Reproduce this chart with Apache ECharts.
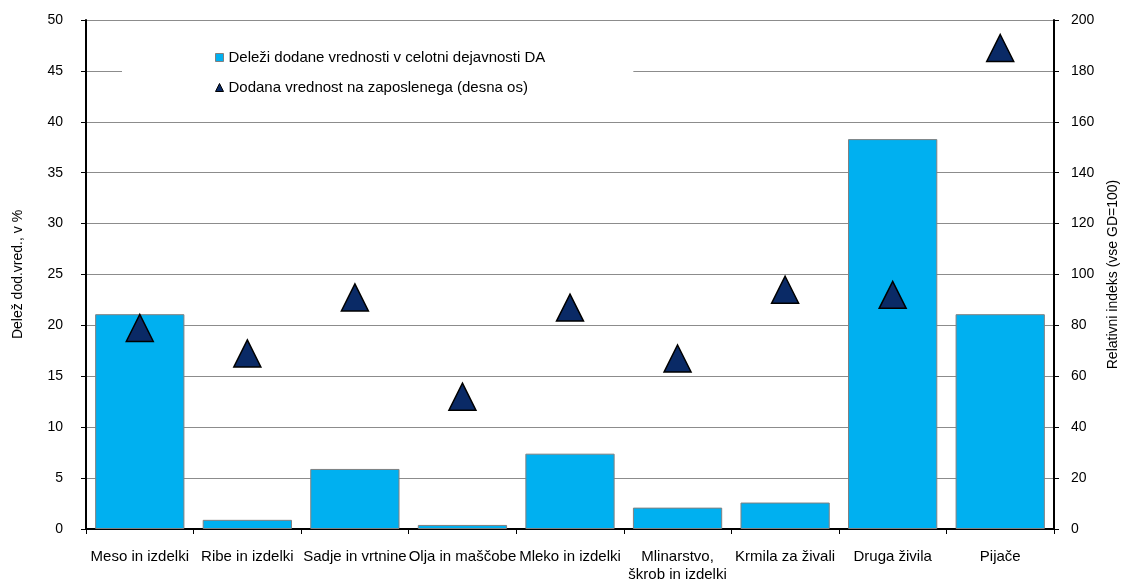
<!DOCTYPE html>
<html><head><meta charset="utf-8">
<script src="https://cdn.jsdelivr.net/npm/echarts@6/dist/echarts.min.js"></script>
<style>html,body{margin:0;padding:0;background:#fff}#c{width:1131px;height:588px}</style>
</head><body><div id="c"></div>
<script>
const categories = ['Meso in izdelki','Ribe in izdelki','Sadje in vrtnine','Olja in maščobe','Mleko in izdelki','Mlinarstvo,\nškrob in izdelki','Krmila za živali','Druga živila','Pijače'];
const shareValues = [21.1, 0.9, 5.9, 0.4, 7.4, 2.1, 2.6, 38.3, 21.1];
const indexValues = [79, 69, 91, 52, 87, 67, 94, 92, 189];
const leftTicks = {min: 0, max: 50, interval: 5};
const rightTicks = {min: 0, max: 200, interval: 20};
const seriesNames = ['Deleži dodane vrednosti v celotni dejavnosti DA', 'Dodana vrednost na zaposlenega (desna os)'];

const font = 'Liberation Sans, Arial, sans-serif';
const fs = 14;
const chart = echarts.init(document.getElementById('c'));
chart.setOption({
  animation: false,
  textStyle: {fontFamily: font, color: '#000'},
  grid: {left: 86, right: 77, top: 20, bottom: 59},
  legend: {
    orient: 'vertical', left: 122, top: 34,
    padding: [16, 88, 12, 93],
    backgroundColor: '#fff',
    itemGap: 15, itemWidth: 8, itemHeight: 8,
    textStyle: {fontFamily: font, fontSize: 15, color: '#000'},
    data: [
      {name: seriesNames[0], icon: 'rect', itemStyle: {color: '#00B0F0', borderColor: '#808080', borderWidth: 1}},
      {name: seriesNames[1], icon: 'triangle', itemStyle: {color: '#0A2A66', borderColor: '#000', borderWidth: 1}}
    ]
  },
  xAxis: {
    type: 'category', data: categories,
    axisLine: {lineStyle: {color: '#000', width: 2}},
    axisTick: {show: true, length: 5, lineStyle: {color: '#000'}},
    axisLabel: {fontSize: 15, color: '#000', margin: 19, interval: 0, lineHeight: 18, fontFamily: font}
  },
  yAxis: [
    {
      type: 'value', min: leftTicks.min, max: leftTicks.max, interval: leftTicks.interval,
      name: 'Delež dod.vred., v %', nameLocation: 'middle', nameGap: 61, nameRotate: 90,
      nameTextStyle: {fontSize: fs, color: '#000', fontFamily: font},
      axisLine: {show: true, lineStyle: {color: '#000', width: 2}},
      axisTick: {show: true, length: 5, lineStyle: {color: '#000'}},
      axisLabel: {fontSize: fs, color: '#000', margin: 23, fontFamily: font},
      splitLine: {show: true, lineStyle: {color: '#8c8c8c', width: 1}}
    },
    {
      type: 'value', min: rightTicks.min, max: rightTicks.max, interval: rightTicks.interval,
      name: 'Relativni indeks (vse GD=100)', nameLocation: 'middle', nameGap: 52, nameRotate: 90,
      nameTextStyle: {fontSize: fs, color: '#000', fontFamily: font},
      axisLine: {show: true, lineStyle: {color: '#000', width: 2}},
      axisTick: {show: true, length: 5, lineStyle: {color: '#000'}},
      axisLabel: {fontSize: fs, color: '#000', margin: 17, fontFamily: font},
      splitLine: {show: false}
    }
  ],
  series: [
    {
      name: seriesNames[0], type: 'bar', data: shareValues, yAxisIndex: 0,
      barCategoryGap: '17%',
      itemStyle: {color: '#00B0F0', borderColor: '#808080', borderWidth: 1}
    },
    {
      name: seriesNames[1], type: 'scatter', data: indexValues, yAxisIndex: 1,
      symbol: 'triangle', symbolSize: [27, 27],
      itemStyle: {color: '#0A2A66', borderColor: '#000', borderWidth: 1.5, opacity: 1}
    }
  ]
});
</script></body></html>
